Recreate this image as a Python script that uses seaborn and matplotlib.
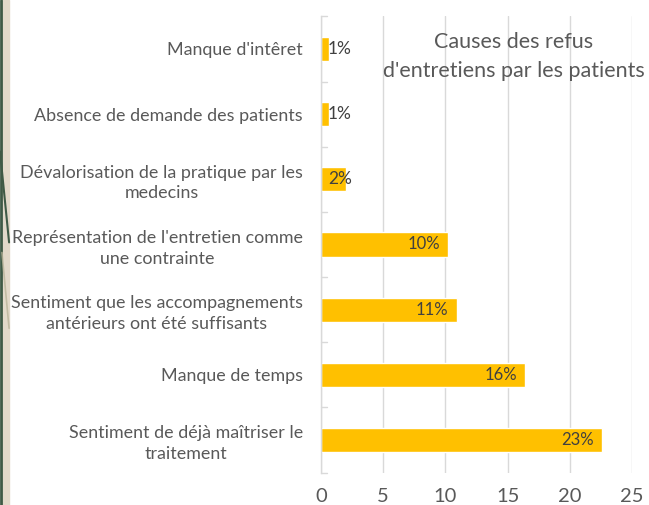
import matplotlib
matplotlib.use("Agg")
import matplotlib.pyplot as plt
from matplotlib.lines import Line2D
from matplotlib.patches import Rectangle
import seaborn as sns
import pandas as pd

causes = [
    "Manque d'intêret",
    "Absence de demande des patients",
    "Dévalorisation de la pratique par les\nmedecins",
    "Représentation de l'entretien comme\nune contrainte",
    "Sentiment que les accompagnements\nantérieurs ont été suffisants",
    "Manque de temps",
    "Sentiment de déjà maîtriser le\ntraitement",
]
pourcentages = [0.65, 0.65, 2.0, 10.2, 10.9, 16.4, 22.6]
graduations = [0, 5, 10, 15, 20, 25]

sns.set_theme(style="white")
plt.rcParams["font.family"] = ["Lato", "DejaVu Sans"]

TEXT = "#595959"
GOLD = "#FFC000"

df = pd.DataFrame({"cause": causes, "pct": pourcentages})

fig = plt.figure(figsize=(6.49, 5.05), dpi=100)
ax = fig.add_axes([0.4946, 0.0642, 0.4792, 0.9033])

sns.barplot(data=df, x="pct", y="cause", orient="h", color=GOLD,
            saturation=1, width=0.37, ax=ax)

ax.set_xlim(0, 25)
ax.set_ylim(len(causes) - 0.5, -0.5)
ax.set_xticks(graduations)
ax.set_xticklabels([str(g) for g in graduations])
ax.set_xlabel("")
ax.set_ylabel("")

ax.grid(axis="x", color="#D9D9D9", linewidth=1)
ax.set_axisbelow(True)
for s in ["top", "right", "bottom"]:
    ax.spines[s].set_visible(False)
ax.spines["left"].set_color("#D9D9D9")
ax.spines["left"].set_linewidth(1)

ax.tick_params(axis="x", length=0, labelsize=14.5, labelcolor=TEXT, pad=11)
ax.tick_params(axis="y", length=0, labelsize=12.9, labelcolor=TEXT, pad=13)
for lab in ax.get_yticklabels():
    lab.set_multialignment("center")
    lab.set_linespacing(1.35)

# small category separator ticks on the value axis
for b in range(len(causes) + 1):
    ax.plot([0, 0.45], [b - 0.5, b - 0.5], color="#D9D9D9", lw=1,
            clip_on=False, zorder=1)

# value labels
for i, v in enumerate(pourcentages):
    txt = f"{v:.0f}%"
    if v >= 5:
        ax.text(v - 0.65, i, txt, ha="right", va="center",
                fontsize=12, color="#404040")
    else:
        ax.text(0.55, i, txt, ha="left", va="center",
                fontsize=12.5, color="#404040")

ax.text(0.62, 0.912, "Causes des refus\nd'entretiens par les patients",
        transform=ax.transAxes, ha="center", va="center", fontsize=15.5,
        color=TEXT, linespacing=1.55)

# slide border decoration on the left edge
fig.patches.append(Rectangle((0.003, 0), 0.011, 1, transform=fig.transFigure,
                             color="#E2D9C9", zorder=0))
fig.lines.append(Line2D([0.0015, 0.0015], [0, 1], transform=fig.transFigure,
                        color="#3F5A45", lw=2))
fig.lines.append(Line2D([0.0, 0.014], [0.70, 0.52], transform=fig.transFigure,
                        color="#3F5A45", lw=1.5))
fig.lines.append(Line2D([0.003, 0.014], [0.50, 0.35], transform=fig.transFigure,
                        color="#B9B49A", lw=1.2, alpha=0.8))

fig.savefig("out.png", dpi=100)
